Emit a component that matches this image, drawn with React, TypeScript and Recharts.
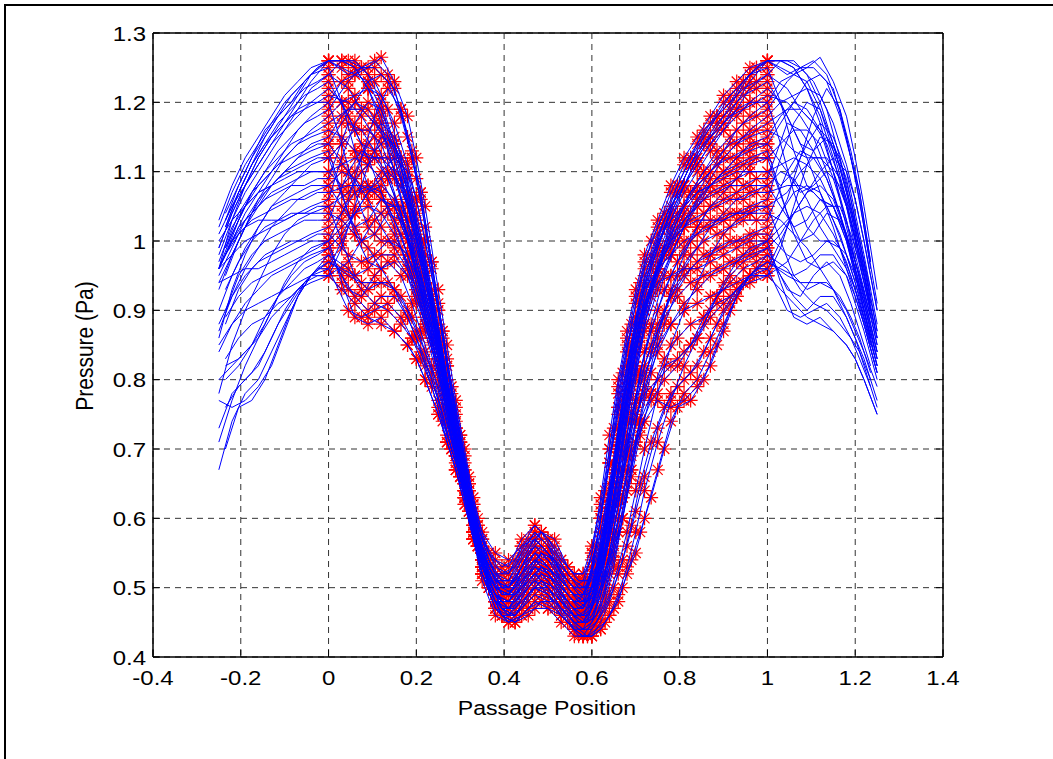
import React from 'react';
import { LineChart, Line, XAxis, YAxis, CartesianGrid } from 'recharts';

// Passage positions of the sampled profiles (0..1, periodic: value at 1 equals value at 0)
const X = [0, 0.03, 0.06, 0.09, 0.12, 0.15, 0.18, 0.2, 0.22, 0.25, 0.27, 0.29, 0.31, 0.33, 0.35, 0.38, 0.41, 0.44, 0.47, 0.5, 0.53, 0.56, 0.58, 0.6, 0.62, 0.64, 0.66, 0.68, 0.7, 0.72, 0.75, 0.78, 0.81, 0.84, 0.87, 0.9, 0.93, 0.96];
const XB = [0, 0.045, 0.075, 0.105, 0.135, 0.165, 0.19, 0.21, 0.235, 0.26, 0.28, 0.3, 0.32, 0.34, 0.365, 0.395, 0.425, 0.455, 0.485, 0.515, 0.545, 0.57, 0.59, 0.61, 0.63, 0.65, 0.67, 0.69, 0.71, 0.735, 0.765, 0.795, 0.825, 0.855, 0.885, 0.915, 0.945, 0.975];

const xTicks = [-0.4, -0.2, 0, 0.2, 0.4, 0.6, 0.8, 1, 1.2, 1.4];
const yTicks = [0.4, 0.5, 0.6, 0.7, 0.8, 0.9, 1, 1.1, 1.2, 1.3];

// Pressure profiles (Pa) sampled at X
const c01 = [1.26, 1.25, 1.24, 1.25, 1.265, 1.23, 1.18, 1.12, 1.05, 0.93, 0.85, 0.77, 0.70, 0.63, 0.58, 0.55, 0.54, 0.56, 0.57, 0.55, 0.52, 0.50, 0.51, 0.55, 0.61, 0.68, 0.76, 0.84, 0.91, 0.96, 1.01, 1.05, 1.08, 1.11, 1.14, 1.17, 1.2, 1.23];
const c02 = [1.26, 1.26, 1.26, 1.24, 1.2, 1.14, 1.07, 1.02, 0.96, 0.87, 0.8, 0.73, 0.67, 0.61, 0.55, 0.51, 0.5, 0.53, 0.55, 0.53, 0.5, 0.48, 0.49, 0.53, 0.6, 0.68, 0.75, 0.82, 0.88, 0.94, 0.99, 1.04, 1.08, 1.12, 1.15, 1.18, 1.21, 1.24];
const c03 = [1.24, 1.26, 1.25, 1.22, 1.18, 1.12, 1.05, 0.99, 0.94, 0.86, 0.79, 0.72, 0.66, 0.6, 0.54, 0.5, 0.49, 0.52, 0.54, 0.52, 0.49, 0.47, 0.47, 0.5, 0.56, 0.63, 0.71, 0.79, 0.86, 0.92, 0.98, 1.03, 1.07, 1.1, 1.13, 1.16, 1.19, 1.22];
const c04 = [1.2, 1.23, 1.24, 1.23, 1.19, 1.13, 1.06, 1.0, 0.95, 0.86, 0.79, 0.72, 0.66, 0.6, 0.55, 0.51, 0.5, 0.53, 0.56, 0.54, 0.51, 0.49, 0.48, 0.5, 0.55, 0.62, 0.7, 0.77, 0.84, 0.9, 0.96, 1.0, 1.04, 1.07, 1.1, 1.13, 1.16, 1.18];
const c05 = [1.18, 1.2, 1.21, 1.22, 1.21, 1.17, 1.11, 1.06, 1.0, 0.9, 0.82, 0.75, 0.68, 0.62, 0.57, 0.53, 0.52, 0.55, 0.58, 0.56, 0.53, 0.51, 0.5, 0.51, 0.54, 0.6, 0.67, 0.74, 0.81, 0.87, 0.93, 0.98, 1.02, 1.06, 1.09, 1.12, 1.14, 1.16];
const c06 = [1.15, 1.18, 1.2, 1.19, 1.16, 1.1, 1.03, 0.97, 0.92, 0.84, 0.77, 0.71, 0.65, 0.59, 0.53, 0.49, 0.48, 0.5, 0.53, 0.52, 0.49, 0.46, 0.45, 0.47, 0.52, 0.59, 0.67, 0.75, 0.82, 0.88, 0.94, 0.98, 1.02, 1.05, 1.08, 1.1, 1.12, 1.14];
const c07 = [1.12, 1.14, 1.16, 1.16, 1.14, 1.09, 1.03, 0.98, 0.93, 0.85, 0.78, 0.71, 0.65, 0.59, 0.54, 0.5, 0.49, 0.52, 0.54, 0.52, 0.49, 0.47, 0.46, 0.47, 0.5, 0.55, 0.62, 0.7, 0.77, 0.84, 0.9, 0.95, 0.99, 1.02, 1.05, 1.07, 1.09, 1.11];
const c08 = [1.1, 1.08, 1.1, 1.14, 1.17, 1.15, 1.1, 1.04, 0.98, 0.88, 0.8, 0.73, 0.66, 0.6, 0.55, 0.51, 0.5, 0.54, 0.57, 0.55, 0.51, 0.49, 0.49, 0.52, 0.58, 0.65, 0.73, 0.8, 0.86, 0.91, 0.96, 1.0, 1.03, 1.05, 1.07, 1.08, 1.09, 1.1];
const c09 = [1.08, 1.05, 1.02, 1.03, 1.06, 1.05, 1.0, 0.95, 0.9, 0.83, 0.77, 0.71, 0.65, 0.59, 0.54, 0.49, 0.47, 0.49, 0.52, 0.51, 0.48, 0.46, 0.45, 0.46, 0.49, 0.54, 0.6, 0.67, 0.74, 0.8, 0.87, 0.92, 0.96, 0.99, 1.02, 1.04, 1.06, 1.07];
const c10 = [1.05, 1.0, 0.95, 0.93, 0.94, 0.93, 0.9, 0.87, 0.84, 0.79, 0.74, 0.69, 0.64, 0.58, 0.53, 0.48, 0.46, 0.47, 0.5, 0.5, 0.48, 0.45, 0.44, 0.44, 0.46, 0.49, 0.53, 0.58, 0.64, 0.7, 0.78, 0.85, 0.9, 0.94, 0.98, 1.01, 1.03, 1.04];
const c11 = [1.0, 0.94, 0.89, 0.88, 0.89, 0.87, 0.85, 0.83, 0.8, 0.75, 0.71, 0.67, 0.63, 0.58, 0.52, 0.47, 0.45, 0.46, 0.48, 0.47, 0.46, 0.44, 0.43, 0.43, 0.44, 0.46, 0.49, 0.53, 0.58, 0.64, 0.71, 0.77, 0.82, 0.86, 0.9, 0.94, 0.97, 0.99];
const c12 = [0.96, 1.0, 1.04, 1.07, 1.08, 1.06, 1.01, 0.96, 0.91, 0.83, 0.77, 0.7, 0.64, 0.58, 0.53, 0.49, 0.48, 0.51, 0.53, 0.51, 0.48, 0.46, 0.46, 0.48, 0.52, 0.58, 0.65, 0.71, 0.77, 0.81, 0.85, 0.88, 0.9, 0.91, 0.92, 0.93, 0.94, 0.95];
const c13 = [0.95, 0.99, 1.05, 1.11, 1.15, 1.14, 1.09, 1.03, 0.97, 0.87, 0.8, 0.73, 0.66, 0.6, 0.55, 0.51, 0.51, 0.55, 0.58, 0.56, 0.52, 0.5, 0.49, 0.5, 0.53, 0.58, 0.64, 0.7, 0.75, 0.78, 0.8, 0.82, 0.84, 0.86, 0.89, 0.91, 0.93, 0.94];
const c14 = [0.98, 0.95, 0.92, 0.9, 0.92, 0.92, 0.89, 0.86, 0.83, 0.77, 0.72, 0.68, 0.63, 0.58, 0.53, 0.48, 0.46, 0.48, 0.5, 0.49, 0.47, 0.45, 0.44, 0.45, 0.47, 0.52, 0.58, 0.65, 0.71, 0.74, 0.77, 0.76, 0.77, 0.79, 0.82, 0.87, 0.92, 0.95];
const c15 = [1.02, 1.04, 1.07, 1.08, 1.07, 1.03, 0.98, 0.94, 0.89, 0.82, 0.76, 0.7, 0.64, 0.58, 0.53, 0.49, 0.48, 0.5, 0.52, 0.5, 0.47, 0.45, 0.44, 0.45, 0.49, 0.55, 0.62, 0.69, 0.76, 0.82, 0.88, 0.92, 0.95, 0.97, 0.98, 0.99, 1.0, 1.01];
const c16 = [1.22, 1.2, 1.16, 1.12, 1.07, 1.02, 0.96, 0.92, 0.88, 0.81, 0.75, 0.69, 0.63, 0.57, 0.52, 0.48, 0.47, 0.5, 0.53, 0.52, 0.49, 0.47, 0.46, 0.49, 0.55, 0.63, 0.72, 0.8, 0.87, 0.93, 0.99, 1.04, 1.08, 1.11, 1.14, 1.16, 1.18, 1.2];
const c17 = [1.25, 1.2, 1.13, 1.08, 1.06, 1.05, 1.01, 0.96, 0.91, 0.83, 0.77, 0.71, 0.65, 0.6, 0.55, 0.5, 0.49, 0.52, 0.55, 0.53, 0.5, 0.48, 0.47, 0.52, 0.6, 0.7, 0.79, 0.86, 0.92, 0.97, 1.02, 1.07, 1.11, 1.14, 1.17, 1.2, 1.22, 1.24];
const c18 = [1.13, 1.07, 1.01, 0.97, 0.96, 0.97, 0.95, 0.92, 0.88, 0.81, 0.75, 0.69, 0.63, 0.57, 0.52, 0.47, 0.45, 0.47, 0.49, 0.48, 0.46, 0.44, 0.43, 0.45, 0.5, 0.58, 0.67, 0.76, 0.84, 0.9, 0.97, 1.02, 1.05, 1.07, 1.08, 1.1, 1.11, 1.12];
const c19 = [1.06, 1.12, 1.17, 1.2, 1.19, 1.14, 1.07, 1.01, 0.95, 0.86, 0.79, 0.72, 0.66, 0.6, 0.55, 0.52, 0.52, 0.56, 0.59, 0.57, 0.54, 0.52, 0.52, 0.56, 0.62, 0.7, 0.78, 0.85, 0.89, 0.93, 0.96, 0.98, 1.0, 1.01, 1.02, 1.03, 1.04, 1.05];
const c20 = [0.97, 0.96, 0.95, 0.96, 0.98, 0.98, 0.95, 0.91, 0.87, 0.8, 0.74, 0.69, 0.64, 0.58, 0.53, 0.49, 0.47, 0.49, 0.51, 0.5, 0.47, 0.44, 0.43, 0.43, 0.44, 0.46, 0.48, 0.52, 0.55, 0.6, 0.67, 0.74, 0.78, 0.8, 0.84, 0.88, 0.92, 0.95];
const c21 = [1.16, 1.15, 1.13, 1.12, 1.12, 1.1, 1.05, 1.0, 0.94, 0.85, 0.78, 0.71, 0.65, 0.59, 0.54, 0.5, 0.49, 0.51, 0.54, 0.53, 0.5, 0.48, 0.47, 0.49, 0.54, 0.61, 0.69, 0.77, 0.84, 0.9, 0.96, 1.01, 1.05, 1.08, 1.1, 1.12, 1.14, 1.15];
const c22 = [1.04, 1.03, 1.01, 0.99, 0.96, 0.93, 0.89, 0.86, 0.82, 0.76, 0.71, 0.67, 0.62, 0.57, 0.52, 0.47, 0.46, 0.49, 0.51, 0.49, 0.46, 0.44, 0.44, 0.47, 0.53, 0.61, 0.7, 0.78, 0.85, 0.91, 0.96, 1.0, 1.02, 1.03, 1.03, 1.03, 1.04, 1.04];
const c23 = [1.26, 1.26, 1.25, 1.22, 1.17, 1.1, 1.02, 0.97, 0.92, 0.84, 0.78, 0.72, 0.66, 0.61, 0.56, 0.52, 0.51, 0.54, 0.57, 0.55, 0.52, 0.5, 0.5, 0.55, 0.63, 0.72, 0.8, 0.87, 0.93, 0.98, 1.03, 1.08, 1.12, 1.15, 1.18, 1.21, 1.23, 1.25];
const c24 = [0.99, 1.01, 1.04, 1.07, 1.1, 1.12, 1.1, 1.06, 1.0, 0.9, 0.82, 0.74, 0.67, 0.61, 0.56, 0.52, 0.5, 0.52, 0.55, 0.54, 0.51, 0.49, 0.48, 0.49, 0.52, 0.57, 0.63, 0.69, 0.74, 0.79, 0.84, 0.88, 0.91, 0.93, 0.95, 0.96, 0.97, 0.98];
const c25 = [1.2, 1.14, 1.07, 1.02, 1.0, 1.0, 0.98, 0.95, 0.91, 0.84, 0.78, 0.71, 0.65, 0.59, 0.54, 0.49, 0.47, 0.48, 0.5, 0.49, 0.47, 0.46, 0.45, 0.47, 0.51, 0.57, 0.64, 0.72, 0.8, 0.88, 0.96, 1.03, 1.08, 1.12, 1.15, 1.17, 1.19, 1.2];
const c26 = [1.1, 1.11, 1.12, 1.11, 1.09, 1.05, 1.0, 0.95, 0.9, 0.82, 0.76, 0.7, 0.64, 0.58, 0.53, 0.48, 0.47, 0.5, 0.52, 0.5, 0.47, 0.45, 0.45, 0.48, 0.54, 0.63, 0.73, 0.82, 0.89, 0.95, 1.0, 1.03, 1.05, 1.07, 1.08, 1.09, 1.1, 1.1];
const c27 = [1.0, 1.02, 1.04, 1.05, 1.04, 1.01, 0.97, 0.93, 0.88, 0.81, 0.75, 0.69, 0.63, 0.57, 0.52, 0.48, 0.48, 0.51, 0.54, 0.53, 0.5, 0.48, 0.48, 0.53, 0.6, 0.68, 0.76, 0.82, 0.87, 0.91, 0.94, 0.95, 0.96, 0.96, 0.97, 0.98, 0.99, 1.0];
const c28 = [1.14, 1.17, 1.2, 1.23, 1.24, 1.22, 1.15, 1.09, 1.02, 0.91, 0.83, 0.76, 0.69, 0.62, 0.57, 0.54, 0.53, 0.57, 0.59, 0.57, 0.54, 0.52, 0.52, 0.54, 0.58, 0.64, 0.71, 0.78, 0.84, 0.9, 0.95, 0.99, 1.03, 1.06, 1.08, 1.1, 1.12, 1.13];
const c29 = [0.95, 0.93, 0.91, 0.89, 0.88, 0.87, 0.85, 0.83, 0.8, 0.75, 0.71, 0.67, 0.62, 0.57, 0.51, 0.46, 0.45, 0.46, 0.47, 0.47, 0.45, 0.43, 0.43, 0.43, 0.45, 0.48, 0.52, 0.56, 0.61, 0.66, 0.73, 0.78, 0.8, 0.82, 0.86, 0.9, 0.93, 0.95];
const c30 = [1.08, 1.1, 1.09, 1.06, 1.02, 0.99, 0.96, 0.93, 0.89, 0.82, 0.76, 0.7, 0.64, 0.58, 0.53, 0.5, 0.5, 0.53, 0.56, 0.55, 0.53, 0.51, 0.5, 0.5, 0.51, 0.54, 0.58, 0.64, 0.71, 0.78, 0.86, 0.93, 0.98, 1.02, 1.05, 1.06, 1.07, 1.08];

// Pressure profiles (Pa) sampled at XB
const d01 = [1.26, 1.26, 1.25, 1.23, 1.19, 1.12, 1.05, 0.99, 0.9, 0.81, 0.74, 0.68, 0.62, 0.57, 0.52, 0.49, 0.5, 0.54, 0.56, 0.54, 0.5, 0.48, 0.5, 0.56, 0.64, 0.73, 0.81, 0.88, 0.94, 1.0, 1.04, 1.08, 1.12, 1.15, 1.18, 1.21, 1.23, 1.25];
const d02 = [1.23, 1.18, 1.14, 1.13, 1.15, 1.12, 1.06, 1.0, 0.92, 0.83, 0.76, 0.69, 0.63, 0.58, 0.52, 0.48, 0.48, 0.51, 0.53, 0.51, 0.48, 0.46, 0.47, 0.51, 0.58, 0.66, 0.74, 0.82, 0.89, 0.96, 1.02, 1.07, 1.11, 1.14, 1.17, 1.19, 1.21, 1.22];
const d03 = [0.96, 0.9, 0.89, 0.9, 0.91, 0.89, 0.86, 0.83, 0.79, 0.74, 0.7, 0.66, 0.61, 0.56, 0.5, 0.46, 0.45, 0.47, 0.48, 0.47, 0.45, 0.44, 0.44, 0.45, 0.47, 0.5, 0.54, 0.59, 0.65, 0.71, 0.76, 0.79, 0.81, 0.84, 0.88, 0.91, 0.94, 0.96];
const d04 = [1.19, 1.23, 1.25, 1.25, 1.23, 1.18, 1.12, 1.07, 0.97, 0.87, 0.79, 0.72, 0.65, 0.59, 0.55, 0.52, 0.53, 0.56, 0.58, 0.55, 0.52, 0.5, 0.5, 0.53, 0.58, 0.65, 0.73, 0.81, 0.88, 0.94, 0.99, 1.03, 1.07, 1.1, 1.13, 1.15, 1.17, 1.18];
const d05 = [1.03, 1.1, 1.13, 1.12, 1.09, 1.04, 0.99, 0.95, 0.89, 0.81, 0.75, 0.69, 0.63, 0.57, 0.51, 0.47, 0.47, 0.5, 0.52, 0.51, 0.48, 0.46, 0.45, 0.46, 0.5, 0.56, 0.63, 0.7, 0.77, 0.84, 0.9, 0.95, 0.98, 1.0, 1.01, 1.02, 1.03, 1.03];
const d06 = [1.12, 1.04, 1.0, 1.01, 1.04, 1.03, 0.99, 0.95, 0.89, 0.81, 0.75, 0.69, 0.63, 0.57, 0.52, 0.48, 0.48, 0.51, 0.53, 0.52, 0.5, 0.48, 0.47, 0.48, 0.52, 0.58, 0.66, 0.74, 0.81, 0.88, 0.95, 1.0, 1.04, 1.07, 1.09, 1.1, 1.11, 1.12];
const d07 = [0.99, 0.93, 0.92, 0.95, 0.97, 0.95, 0.91, 0.87, 0.82, 0.76, 0.71, 0.66, 0.61, 0.56, 0.51, 0.47, 0.46, 0.49, 0.51, 0.5, 0.47, 0.45, 0.45, 0.47, 0.51, 0.57, 0.63, 0.69, 0.74, 0.78, 0.82, 0.83, 0.85, 0.88, 0.92, 0.95, 0.97, 0.98];
const d08 = [1.17, 1.19, 1.19, 1.17, 1.14, 1.09, 1.03, 0.98, 0.91, 0.82, 0.76, 0.7, 0.64, 0.58, 0.53, 0.5, 0.5, 0.53, 0.55, 0.53, 0.5, 0.48, 0.48, 0.5, 0.55, 0.62, 0.7, 0.78, 0.85, 0.92, 0.98, 1.03, 1.07, 1.1, 1.12, 1.14, 1.15, 1.16];
const d09 = [1.07, 1.08, 1.08, 1.07, 1.05, 1.01, 0.96, 0.92, 0.86, 0.79, 0.73, 0.68, 0.62, 0.57, 0.51, 0.47, 0.47, 0.5, 0.53, 0.52, 0.49, 0.47, 0.48, 0.53, 0.6, 0.68, 0.76, 0.83, 0.89, 0.94, 0.98, 1.01, 1.03, 1.04, 1.05, 1.06, 1.06, 1.07];
const d10 = [1.0, 1.06, 1.12, 1.18, 1.22, 1.19, 1.12, 1.06, 0.96, 0.86, 0.78, 0.71, 0.65, 0.59, 0.54, 0.51, 0.51, 0.55, 0.58, 0.57, 0.53, 0.51, 0.51, 0.53, 0.57, 0.63, 0.69, 0.75, 0.8, 0.85, 0.89, 0.92, 0.94, 0.95, 0.96, 0.97, 0.98, 0.99];
const d11 = [1.24, 1.22, 1.19, 1.17, 1.15, 1.11, 1.05, 1.0, 0.93, 0.84, 0.77, 0.71, 0.65, 0.59, 0.54, 0.5, 0.49, 0.52, 0.54, 0.52, 0.49, 0.47, 0.48, 0.52, 0.59, 0.67, 0.76, 0.84, 0.91, 0.97, 1.03, 1.08, 1.12, 1.16, 1.18, 1.2, 1.22, 1.23];
const d12 = [0.97, 0.95, 0.94, 0.94, 0.94, 0.92, 0.89, 0.86, 0.81, 0.75, 0.7, 0.66, 0.61, 0.56, 0.5, 0.46, 0.45, 0.46, 0.48, 0.48, 0.46, 0.44, 0.43, 0.44, 0.45, 0.47, 0.5, 0.54, 0.58, 0.63, 0.7, 0.76, 0.77, 0.8, 0.85, 0.9, 0.94, 0.96];
const d13 = [1.14, 1.1, 1.07, 1.08, 1.1, 1.08, 1.03, 0.98, 0.91, 0.82, 0.76, 0.7, 0.64, 0.58, 0.53, 0.49, 0.49, 0.52, 0.55, 0.54, 0.51, 0.49, 0.49, 0.51, 0.56, 0.63, 0.71, 0.79, 0.86, 0.93, 0.99, 1.04, 1.07, 1.09, 1.11, 1.12, 1.13, 1.14];
const d14 = [1.26, 1.24, 1.25, 1.26, 1.24, 1.19, 1.13, 1.07, 0.97, 0.87, 0.79, 0.72, 0.66, 0.6, 0.55, 0.53, 0.54, 0.57, 0.58, 0.56, 0.53, 0.51, 0.51, 0.54, 0.6, 0.68, 0.77, 0.85, 0.92, 0.98, 1.03, 1.07, 1.11, 1.15, 1.18, 1.2, 1.23, 1.25];
const d15 = [1.01, 0.98, 0.97, 0.98, 1.0, 0.99, 0.95, 0.91, 0.85, 0.78, 0.72, 0.67, 0.62, 0.57, 0.51, 0.47, 0.46, 0.48, 0.5, 0.49, 0.47, 0.45, 0.45, 0.46, 0.49, 0.54, 0.6, 0.67, 0.74, 0.81, 0.88, 0.93, 0.96, 0.98, 0.99, 1.0, 1.0, 1.01];
const d16 = [1.09, 1.17, 1.16, 1.13, 1.09, 1.04, 0.98, 0.94, 0.88, 0.8, 0.74, 0.68, 0.62, 0.57, 0.51, 0.47, 0.46, 0.49, 0.52, 0.51, 0.48, 0.46, 0.46, 0.49, 0.55, 0.63, 0.72, 0.8, 0.87, 0.93, 0.98, 1.02, 1.04, 1.06, 1.07, 1.08, 1.08, 1.09];
const d17 = [0.95, 0.97, 1.0, 1.03, 1.05, 1.05, 1.01, 0.97, 0.9, 0.82, 0.75, 0.69, 0.63, 0.58, 0.53, 0.49, 0.49, 0.52, 0.55, 0.54, 0.51, 0.49, 0.48, 0.49, 0.51, 0.55, 0.6, 0.66, 0.72, 0.78, 0.83, 0.86, 0.88, 0.89, 0.91, 0.92, 0.94, 0.95];
const d18 = [1.21, 1.2, 1.18, 1.15, 1.1, 1.04, 0.98, 0.93, 0.86, 0.79, 0.73, 0.68, 0.62, 0.56, 0.5, 0.46, 0.46, 0.49, 0.51, 0.5, 0.47, 0.45, 0.45, 0.5, 0.58, 0.67, 0.76, 0.84, 0.91, 0.97, 1.02, 1.07, 1.11, 1.14, 1.16, 1.18, 1.19, 1.2];
const d19 = [1.05, 1.07, 1.1, 1.12, 1.12, 1.09, 1.04, 0.99, 0.92, 0.83, 0.77, 0.71, 0.64, 0.58, 0.53, 0.5, 0.51, 0.55, 0.57, 0.55, 0.52, 0.5, 0.49, 0.5, 0.54, 0.6, 0.67, 0.74, 0.81, 0.87, 0.93, 0.97, 1.0, 1.02, 1.03, 1.04, 1.04, 1.05];
const d20 = [0.98, 0.96, 0.93, 0.91, 0.9, 0.88, 0.86, 0.84, 0.8, 0.75, 0.7, 0.66, 0.61, 0.56, 0.5, 0.46, 0.45, 0.47, 0.49, 0.48, 0.45, 0.43, 0.43, 0.45, 0.48, 0.53, 0.6, 0.67, 0.73, 0.77, 0.8, 0.82, 0.85, 0.89, 0.92, 0.94, 0.96, 0.97];

const curvesA = [c01, c02, c03, c04, c05, c06, c07, c08, c09, c10, c11, c12, c13, c14, c15, c16, c17, c18, c19, c20, c21, c22, c23, c24, c25, c26, c27, c28, c29, c30];
const curvesB = [d01, d02, d03, d04, d05, d06, d07, d08, d09, d10, d11, d12, d13, d14, d15, d16, d17, d18, d19, d20];

// Indices of the periodic copies drawn outside [0, 1]
const LEFT_COPY_A = [30, 31, 32, 33, 34, 35, 36, 37];
const RIGHT_COPY_A = [1, 2, 3, 4, 5, 6, 7, 8, 9];
const LEFT_COPY_B = [30, 31, 32, 33, 34, 35, 36, 37];
const RIGHT_COPY_B = [1, 2, 3, 4, 5, 6, 7, 8];

type Pt = { x: number; y: number };

const starsOf = (c: number[], xs: number[]): Pt[] => [
  ...xs.map((x, i) => ({ x, y: c[i] })),
  { x: 1, y: c[0] },
];

const lineOf = (c: number[], xs: number[], left: number[], right: number[]): Pt[] => [
  ...left.map((i) => ({ x: +(xs[i] - 1).toFixed(3), y: c[i] })),
  ...xs.map((x, i) => ({ x, y: c[i] })),
  { x: 1, y: c[0] },
  ...right.map((i) => ({ x: +(xs[i] + 1).toFixed(3), y: c[i] })),
];

const starData: Pt[][] = [
  ...curvesA.map((c) => starsOf(c, X)),
  ...curvesB.map((c) => starsOf(c, XB)),
];
const lineData: Pt[][] = [
  ...curvesA.map((c) => lineOf(c, X, LEFT_COPY_A, RIGHT_COPY_A)),
  ...curvesB.map((c) => lineOf(c, XB, LEFT_COPY_B, RIGHT_COPY_B)),
];

const FONT = '"Liberation Sans", Arial, Helvetica, sans-serif';
const W = 1053;
const H = 759;

const XTick = (p: any) => (
  <text
    transform={`translate(${p.x},${p.y}) scale(1.2,1)`}
    x={0}
    y={28}
    textAnchor="middle"
    fontFamily={FONT}
    fontSize={20}
    fill="#000"
  >
    {String(p.payload.value)}
  </text>
);

const YTick = (p: any) => (
  <text
    transform={`translate(${p.x - 7},${p.y}) scale(1.2,1)`}
    x={0}
    y={7.5}
    textAnchor="end"
    fontFamily={FONT}
    fontSize={20}
    fill="#000"
  >
    {String(p.payload.value)}
  </text>
);

const Star = (p: any) => {
  const { cx, cy, index } = p;
  if (cx == null || cy == null) return <g key={`s-${index}`} />;
  const r = 7;
  const d = 5;
  return (
    <path
      key={`s-${index}`}
      d={`M${cx - r},${cy}H${cx + r}M${cx},${cy - r}V${cy + r}M${cx - d},${cy - d}L${cx + d},${cy + d}M${cx - d},${cy + d}L${cx + d},${cy - d}`}
      stroke="#ff0000"
      strokeWidth={1.2}
      fill="none"
    />
  );
};

const empty = () => '';

export default function App() {
  return (
    <div style={{ position: 'absolute', left: 0, top: 0, width: W, height: H, background: '#fff', overflow: 'hidden' }}>
      <div
        style={{
          position: 'absolute',
          left: 4,
          top: 4,
          width: 1060,
          height: 770,
          borderTop: '2px solid #000',
          borderLeft: '2px solid #000',
        }}
      />
      {/* Layer 1: grid, axes and red star markers */}
      <div style={{ position: 'absolute', left: 0, top: 0 }}>
        <LineChart width={W} height={H} margin={{ top: 32, right: 109, left: 93, bottom: 72 }}>
          <CartesianGrid stroke="#333" strokeDasharray="6 5" strokeWidth={1} />
          {starData.map((d, i) => (
            <Line
              key={`stars-${i}`}
              data={d}
              dataKey="y"
              xAxisId={0}
              yAxisId={0}
              stroke="none"
              dot={Star}
              activeDot={false}
              isAnimationActive={false}
              legendType="none"
            />
          ))}
          <XAxis
            xAxisId={0}
            type="number"
            dataKey="x"
            domain={[-0.4, 1.4]}
            ticks={xTicks}
            interval={0}
            allowDataOverflow
            height={30}
            tickSize={-7}
            tickMargin={7}
            axisLine={{ stroke: '#000', strokeWidth: 1.5 }}
            tickLine={{ stroke: '#000' }}
            tick={(p: any) => <XTick {...p} />}
          />
          <XAxis
            xAxisId="top"
            orientation="top"
            type="number"
            domain={[-0.4, 1.4]}
            ticks={xTicks}
            interval={0}
            allowDataOverflow
            height={1}
            tickSize={-7}
            tickMargin={0}
            axisLine={{ stroke: '#000', strokeWidth: 1.5 }}
            tickLine={{ stroke: '#000' }}
            tickFormatter={empty}
          />
          <YAxis
            yAxisId={0}
            type="number"
            domain={[0.4, 1.3]}
            ticks={yTicks}
            interval={0}
            allowDataOverflow
            width={60}
            tickSize={-7}
            tickMargin={7}
            axisLine={{ stroke: '#000', strokeWidth: 1.5 }}
            tickLine={{ stroke: '#000' }}
            tick={(p: any) => <YTick {...p} />}
          />
          <YAxis
            yAxisId="right"
            orientation="right"
            type="number"
            domain={[0.4, 1.3]}
            ticks={yTicks}
            interval={0}
            allowDataOverflow
            width={1}
            tickSize={-7}
            tickMargin={0}
            axisLine={{ stroke: '#000', strokeWidth: 1.5 }}
            tickLine={{ stroke: '#000' }}
            tickFormatter={empty}
          />
        </LineChart>
      </div>
      {/* Layer 2: blue profile lines drawn on top of the markers, same scales */}
      <div style={{ position: 'absolute', left: 0, top: 0 }}>
        <LineChart width={W} height={H} margin={{ top: 33, right: 110, left: 153, bottom: 102 }}>
          <XAxis xAxisId={0} type="number" dataKey="x" domain={[-0.4, 1.4]} allowDataOverflow hide />
          <YAxis yAxisId={0} type="number" domain={[0.4, 1.3]} allowDataOverflow hide />
          {lineData.map((d, i) => (
            <Line
              key={`line-${i}`}
              data={d}
              dataKey="y"
              xAxisId={0}
              yAxisId={0}
              stroke="#0000ff"
              strokeWidth={1}
              dot={false}
              activeDot={false}
              isAnimationActive={false}
              legendType="none"
            />
          ))}
        </LineChart>
      </div>
      <svg width={W} height={H} style={{ position: 'absolute', left: 0, top: 0, pointerEvents: 'none' }}>
        <text
          transform="translate(547,715) scale(1.1,1)"
          textAnchor="middle"
          fontFamily={FONT}
          fontSize={21}
          fill="#000"
        >
          Passage Position
        </text>
        <text
          transform="translate(93,346) rotate(-90) scale(1,1.1)"
          textAnchor="middle"
          fontFamily={FONT}
          fontSize={21}
          fill="#000"
        >
          Pressure (Pa)
        </text>
      </svg>
    </div>
  );
}
